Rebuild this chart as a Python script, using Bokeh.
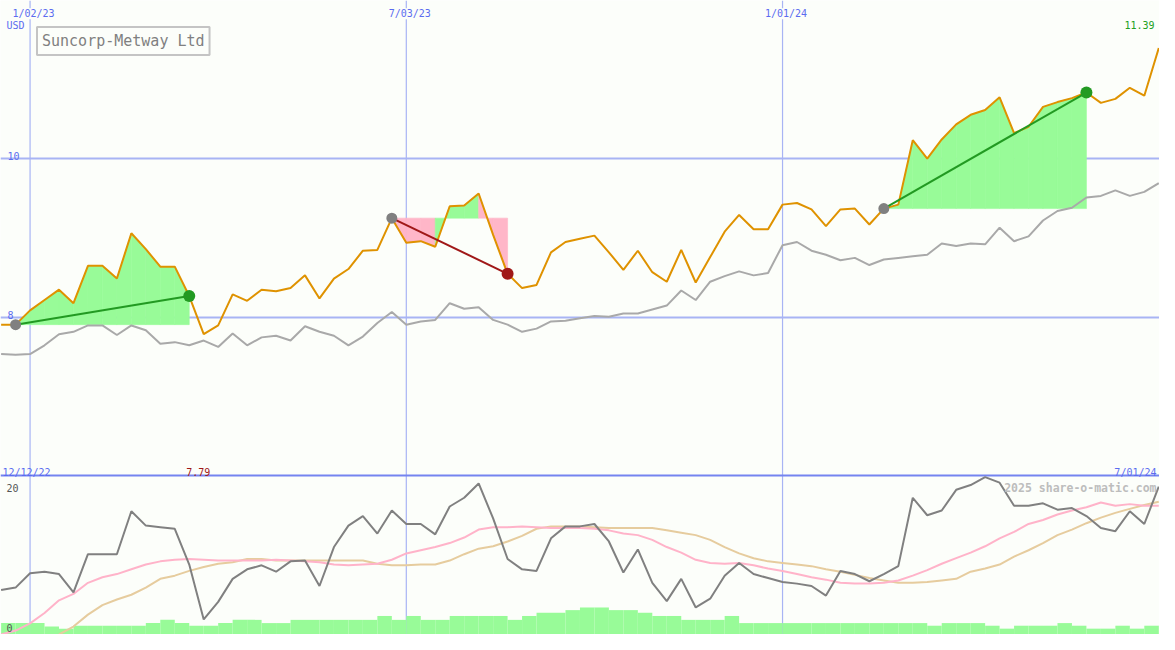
from bokeh.plotting import figure
from bokeh.models import Range1d, Span, Label
from bokeh.embed import file_html
from bokeh.resources import INLINE

# ---------------- data ----------------
weeks = list(range(-2, 79))  # weeks relative to 1/02/23 (weekly closes)

price = [7.91, 7.91, 8.09, 8.22, 8.35, 8.18, 8.65, 8.65, 8.49, 9.06,
         8.86, 8.64, 8.64, 8.27, 7.79, 7.90, 8.29, 8.21, 8.35, 8.33,
         8.37, 8.53, 8.24, 8.49, 8.61, 8.84, 8.85, 9.25, 8.94, 8.96,
         8.89, 9.40, 9.41, 9.56, 9.04, 8.55, 8.37, 8.41, 8.82, 8.95,
         8.99, 9.03, 8.82, 8.60, 8.84, 8.57, 8.45, 8.85, 8.44, 8.76,
         9.08, 9.29, 9.11, 9.11, 9.42, 9.44, 9.36, 9.15, 9.36, 9.37,
         9.17, 9.37, 9.42, 10.23, 10.00, 10.24, 10.43, 10.55, 10.61, 10.77,
         10.32, 10.40, 10.65, 10.71, 10.76, 10.83, 10.70, 10.75, 10.89, 10.79,
         11.39]

index_line = [7.54, 7.53, 7.54, 7.65, 7.79, 7.82, 7.90, 7.90, 7.78, 7.90,
              7.84, 7.67, 7.69, 7.65, 7.71, 7.63, 7.80, 7.65, 7.75, 7.77,
              7.71, 7.89, 7.82, 7.77, 7.65, 7.76, 7.93, 8.07, 7.91, 7.95,
              7.97, 8.18, 8.11, 8.13, 7.97, 7.91, 7.82, 7.86, 7.95, 7.96,
              7.99, 8.02, 8.01, 8.05, 8.05, 8.10, 8.15, 8.34, 8.22, 8.45,
              8.52, 8.58, 8.53, 8.56, 8.91, 8.95, 8.84, 8.79, 8.72, 8.75,
              8.66, 8.73, 8.75, 8.77, 8.79, 8.93, 8.90, 8.93, 8.92, 9.13,
              8.96, 9.02, 9.22, 9.34, 9.38, 9.51, 9.53, 9.60, 9.53, 9.58,
              9.69]

indicator = [5.6, 5.9, 7.7, 7.9, 7.6, 5.3, 10.1, 10.1, 10.1, 15.5,
             13.7, 13.5, 13.3, 8.8, 1.9, 4.1, 7.0, 8.2, 8.7, 7.9,
             9.2, 9.3, 6.1, 11.0, 13.7, 14.9, 12.7, 15.6, 13.9, 13.9,
             12.6, 16.1, 17.2, 19.0, 14.6, 9.5, 8.2, 8.0, 12.1, 13.6,
             13.6, 13.9, 11.7, 7.8, 10.7, 6.5, 4.2, 7.0, 3.4, 4.5,
             7.4, 9.0, 7.6, 7.1, 6.6, 6.4, 6.1, 4.9, 8.0, 7.6,
             6.7, 7.6, 8.6, 17.2, 15.0, 15.6, 18.2, 18.8, 19.8, 19.1,
             16.2, 16.2, 16.5, 15.7, 15.9, 14.9, 13.4, 13.0, 15.5, 13.9,
             18.6]

ma_fast = [0.0, 0.5, 1.4, 2.7, 4.3, 5.1, 6.5, 7.2, 7.6, 8.2,
           8.8, 9.2, 9.4, 9.5, 9.4, 9.3, 9.3, 9.3, 9.3, 9.4,
           9.3, 9.2, 9.1, 8.8, 8.7, 8.8, 8.9, 9.4, 10.2, 10.6,
           11.0, 11.5, 12.2, 13.2, 13.5, 13.5, 13.6, 13.5, 13.4, 13.4,
           13.4, 13.3, 13.1, 12.7, 12.5, 11.9, 11.0, 10.3, 9.4, 9.0,
           8.9, 9.0, 8.7, 8.3, 8.0, 7.6, 7.2, 6.9, 6.5, 6.4,
           6.4, 6.5, 6.8, 7.4, 8.1, 8.9, 9.6, 10.3, 11.1, 12.1,
           12.9, 13.9, 14.4, 15.1, 15.6, 16.0, 16.6, 16.2, 16.4, 16.2,
           16.2]

ma_slow_weeks = list(range(2, 79))
ma_slow = [0.0, 1.0, 2.5, 3.7, 4.4, 5.0, 5.9, 7.0, 7.4, 8.0,
           8.5, 8.9, 9.1, 9.5, 9.5, 9.3, 9.3, 9.3, 9.3, 9.3,
           9.3, 9.3, 8.9, 8.7, 8.7, 8.8, 8.8, 9.3, 10.1, 10.8,
           11.1, 11.7, 12.4, 13.3, 13.6, 13.6, 13.6, 13.5, 13.4, 13.4,
           13.4, 13.4, 13.1, 12.8, 12.5, 11.9, 11.0, 10.2, 9.6, 9.2,
           9.0, 8.8, 8.6, 8.2, 7.9, 7.5, 7.1, 6.8, 6.5, 6.5,
           6.6, 6.8, 7.0, 7.9, 8.3, 8.8, 9.8, 10.6, 11.5, 12.5,
           13.2, 14.0, 14.7, 15.3, 15.8, 16.3, 16.7]

volume = [1.17, 1.17, 1.17, 0.83, 0.60, 0.90, 0.90, 0.90, 0.90, 0.90,
          1.17, 1.50, 1.17, 0.90, 0.90, 1.17, 1.50, 1.50, 1.17, 1.17,
          1.50, 1.50, 1.50, 1.50, 1.50, 1.50, 1.90, 1.50, 1.90, 1.50,
          1.50, 1.90, 1.90, 1.90, 1.90, 1.50, 1.90, 2.23, 2.23, 2.50,
          2.77, 2.77, 2.50, 2.50, 2.23, 1.90, 1.90, 1.50, 1.50, 1.50,
          1.90, 1.17, 1.17, 1.17, 1.17, 1.17, 1.17, 1.17, 1.17, 1.17,
          1.17, 1.17, 1.17, 1.17, 0.90, 1.17, 1.17, 1.17, 0.90, 0.60,
          0.90, 0.90, 0.90, 1.17, 0.90, 0.60, 0.60, 0.90, 0.60, 0.90,
          0.90]

signal_start = [-1, 25, 59]
signal_end = [11, 33, 73]

date_ticks = [0, 26, 52]
date_labels = ["1/02/23", "7/03/23", "1/01/24"]
price_ticks = [8, 10]
ind_ticks = [0, 20]
first_date = "12/12/22"
last_date = "7/01/24"
title = "Suncorp-Metway Ltd"
currency = "USD"
credit = "2025 share-o-matic.com"

# ---------------- style ----------------
BG = "#fcfefa"
GRID = "#a8b4f4"
SEP = "#7484f0"
BLUE = "#5b6cf0"
ORANGE = "#df9200"
GRAY_IDX = "#a9a9a9"
GRAY_IND = "#808080"
PINK = "#ffb3c9"
TAN = "#e6cc9e"
GFILL = "#98fb98"
PFILL = "#ffb6c8"
GREEN = "#229a22"
RED = "#a01818"
FONT = "DejaVu Sans Mono"

W, H = 1159, 634
sx, sy = W / 1175.0, H / 650.0
X0, X1 = -2.043, 78.05
Y0, Y1 = 4.012, 11.988

p = figure(width=W, height=H, x_range=Range1d(X0, X1), y_range=Range1d(Y0, Y1),
           output_backend="svg", toolbar_location=None, min_border=0,
           x_axis_location=None, y_axis_location=None,
           background_fill_color=BG, border_fill_color=BG)
p.grid.visible = False
p.outline_line_color = None
p.extra_y_ranges = {"ind": Range1d(0, 79.75), "vol": Range1d(0, 65)}

for w in date_ticks:
    p.add_layout(Span(location=w, dimension="height", line_color=GRID, line_width=1.2, level="underlay"))
for v in price_ticks:
    p.add_layout(Span(location=v, dimension="width", line_color=GRID, line_width=2, level="underlay"))
p.add_layout(Span(location=ind_ticks[1], dimension="width", y_range_name="ind",
                  line_color=SEP, line_width=2, level="underlay"))

# volume
p.quad(left=weeks, right=[w + 1 for w in weeks], bottom=0, top=volume,
       fill_color=GFILL, line_color=None, y_range_name="vol")

# moving averages and indicator
p.line(ma_slow_weeks, ma_slow, line_color=TAN, line_width=2, y_range_name="ind")
p.line(weeks, ma_fast, line_color=PINK, line_width=2, y_range_name="ind")
p.line(weeks, indicator, line_color=GRAY_IND, line_width=2, y_range_name="ind")

# signal fills
wi = {w: i for i, w in enumerate(weeks)}
xs, ys, cols = [], [], []
for s, e in zip(signal_start, signal_end):
    i0, i1 = wi[s], wi[e]
    L = price[i0]
    for i in range(i0, i1):
        xs.append([weeks[i], weeks[i], weeks[i + 1], weeks[i + 1]])
        ys.append([L, price[i], price[i + 1], L])
        cols.append(GFILL if price[i + 1] >= L else PFILL)
p.patches(xs, ys, fill_color=cols, line_color=cols, line_width=0.6)

# comparison index and price
p.line(weeks, index_line, line_color=GRAY_IDX, line_width=2)
p.line(weeks, price, line_color=ORANGE, line_width=2)

# signal lines and dots
sp = [price[wi[s]] for s in signal_start]
ep = [price[wi[e]] for e in signal_end]
sc = [GREEN if b >= a else RED for a, b in zip(sp, ep)]
p.segment(x0=signal_start, y0=sp, x1=signal_end, y1=ep, line_color=sc, line_width=2)
p.scatter(signal_start, sp, size=11, fill_color="#808080", line_color=None)
p.scatter(signal_end, ep, size=12, fill_color=sc, line_color=None)


def lab(text, x, y, color, size="10px", align="left", baseline="alphabetic",
        xo=0.0, yo=0.0, rng="default", style="normal", **kw):
    p.add_layout(Label(x=x, y=y, text=text, text_color=color, text_font=FONT,
                       text_font_size=size, text_align=align, text_baseline=baseline,
                       x_offset=xo, y_offset=yo, y_range_name=rng,
                       text_font_style=style, **kw))


# top date labels
for w, t in zip(date_ticks, date_labels):
    lab(t, w, Y1, BLUE, align="center", baseline="alphabetic", xo=3.5, yo=-13.5 * sy,
        background_fill_color=BG)
lab(currency, X0, Y1, BLUE, xo=6 * sx, yo=-25.5 * sy)
lab("%.2f" % max(price), X1, Y1, "#22a022", align="right", xo=-5, yo=-25.5 * sy)
for v in price_ticks:
    lab(str(v), X0, v, BLUE, xo=7 * sx, yo=3)

# bottom panel labels
lab(first_date, X0, ind_ticks[1], BLUE, xo=2 * sx, yo=3.5, rng="ind")
lab(last_date, X1, ind_ticks[1], BLUE, align="right", xo=-3, yo=3.5, rng="ind")
imin = price.index(min(price))
lab("%.2f" % min(price), weeks[imin], ind_ticks[1], "#a01818", align="center",
    xo=-5.5, yo=3.5, rng="ind")
lab(str(ind_ticks[1]), X0, ind_ticks[1], "#555555", xo=6 * sx, yo=-12.5 * sy, rng="ind")
lab(str(ind_ticks[0]), X0, ind_ticks[0], "#555555", xo=6 * sx, yo=6.5, rng="ind")
lab(credit, X1, ind_ticks[1], "#bdbdbd", size="11.5px", align="right", xo=-3,
    yo=-12.8 * sy, rng="ind", style="bold")

# title box
lab(title, X0, Y1, "#808080", size="15px", xo=37 * sx, yo=-41.5 * sy,
    border_line_color="#c4c4c4", border_line_width=2, background_fill_color=BG,
    padding=5)

open("out.html", "w").write(file_html(p, INLINE))
